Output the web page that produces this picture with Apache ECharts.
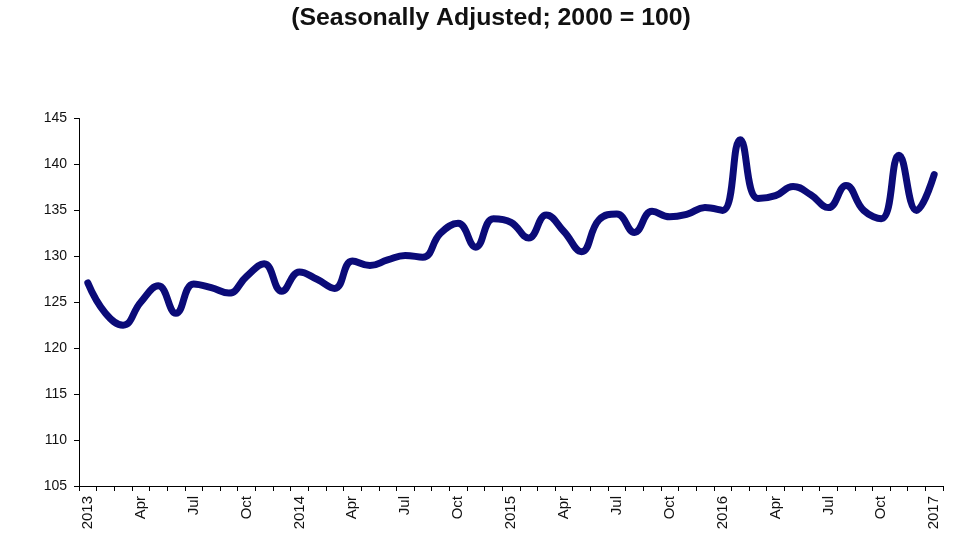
<!DOCTYPE html>
<html>
<head>
<meta charset="utf-8">
<script src="https://cdn.jsdelivr.net/npm/echarts@6/dist/echarts.min.js"></script>
<style>
html,body{margin:0;padding:0;background:#fff;}
#c{width:980px;height:552px;}
</style>
</head>
<body>
<div id="c"></div>
<script>
var months = ['2013','Feb','Mar','Apr','May','Jun','Jul','Aug','Sep','Oct','Nov','Dec',
  '2014','Feb','Mar','Apr','May','Jun','Jul','Aug','Sep','Oct','Nov','Dec',
  '2015','Feb','Mar','Apr','May','Jun','Jul','Aug','Sep','Oct','Nov','Dec',
  '2016','Feb','Mar','Apr','May','Jun','Jul','Aug','Sep','Oct','Nov','Dec',
  '2017'];
var values = [127.1, 123.8, 122.5, 125.0, 126.8, 123.8, 127.0, 126.6, 126.0, 127.8, 129.2, 126.2,
  128.3, 127.5, 126.5, 129.5, 129.0, 129.6, 130.1, 129.9, 132.5, 133.6, 131.0, 134.1,
  133.7, 132.0, 134.5, 132.7, 130.5, 134.0, 134.6, 132.6, 134.9, 134.3, 134.6, 135.3,
  135.0, 142.7, 136.3, 136.6, 137.6, 136.7, 135.3, 137.7, 135.0, 134.1, 141.0, 135.0,
  138.9];
var yTicks = [105, 110, 115, 120, 125, 130, 135, 140, 145];
var subtitle = '(Seasonally Adjusted; 2000 = 100)';

var font = 'Liberation Sans, Arial, sans-serif';
var chart = echarts.init(document.getElementById('c'));
chart.setOption({
  animation: false,
  backgroundColor: '#fff',
  graphic: [{
    type: 'text',
    x: 491, y: 19,
    scaleX: 1.08,
    style: {
      text: subtitle,
      font: 'bold 23px ' + font,
      fill: '#111',
      textAlign: 'center',
      textVerticalAlign: 'middle'
    }
  }],
  grid: {left: 79, right: 37, top: 118.5, bottom: 66},
  xAxis: {
    type: 'category',
    data: months,
    boundaryGap: true,
    axisLine: {lineStyle: {color: '#000', width: 1}},
    axisTick: {show: true, interval: 0, alignWithLabel: false, length: 5, lineStyle: {color: '#000'}},
    axisLabel: {interval: 2, rotate: 90, margin: 10, color: '#111', fontSize: 15, fontFamily: font},
    splitLine: {show: false}
  },
  yAxis: {
    type: 'value',
    min: yTicks[0],
    max: yTicks[yTicks.length - 1],
    interval: 5,
    axisLine: {show: true, lineStyle: {color: '#000', width: 1}},
    axisTick: {show: true, length: 5, lineStyle: {color: '#000'}},
    axisLabel: {margin: 12, color: '#111', fontSize: 14, fontFamily: font},
    splitLine: {show: false}
  },
  series: [{
    type: 'line',
    data: values,
    smooth: 0.45,
    symbol: 'none',
    lineStyle: {color: '#0b0b78', width: 7, cap: 'round', join: 'round'}
  }]
});
</script>
</body>
</html>
